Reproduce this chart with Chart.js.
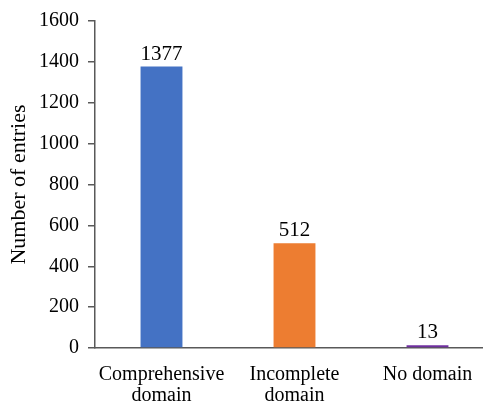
<!DOCTYPE html>
<html><head><meta charset="utf-8">
<script src="https://cdn.jsdelivr.net/npm/chart.js@4/dist/chart.umd.min.js"></script>
<style>
html,body{margin:0;padding:0;background:#fff;overflow:hidden;width:483px;height:402px}
#wrap{width:500px;height:402px;position:relative}
</style></head><body>
<div id="wrap"><canvas id="c" width="500" height="402"></canvas></div>
<script>
const categories = [["Comprehensive","domain"],["Incomplete","domain"],"No domain"];
const entries = [1377, 512, 13];
const barColors = ["#4472C4", "#ED7D31", "#7030A0"];
const yTicks = [0, 200, 400, 600, 800, 1000, 1200, 1400, 1600];
const SERIF = '"Liberation Serif", "Times New Roman", serif';

const labelPlugin = {
  id: 'valueLabels',
  afterDatasetsDraw(chart) {
    const ctx = chart.ctx;
    const meta = chart.getDatasetMeta(0);
    ctx.save();
    ctx.font = '21px ' + SERIF;
    ctx.fillStyle = '#000';
    ctx.textAlign = 'center';
    ctx.textBaseline = 'alphabetic';
    meta.data.forEach((bar, i) => {
      ctx.fillText(String(entries[i]), bar.x, bar.y - 7);
    });
    ctx.restore();
  }
};

new Chart(document.getElementById('c'), {
  type: 'bar',
  data: {
    labels: categories,
    datasets: [{
      data: entries,
      backgroundColor: barColors,
      borderWidth: 0,
      barPercentage: 0.315,
      categoryPercentage: 1.0
    }]
  },
  options: {
    responsive: false,
    animation: false,
    devicePixelRatio: 1,
    layout: { padding: { top: 11, right: 6, left: 8, bottom: -12 } },
    plugins: { legend: { display: false }, tooltip: { enabled: false } },
    scales: {
      x: {
        grid: { display: false },
        border: { display: true, color: '#595959', width: 1.5 },
        ticks: {
          color: '#000',
          font: { family: SERIF, size: 20, lineHeight: 1.05 },
          maxRotation: 0, autoSkip: false, padding: 8
        }
      },
      y: {
        min: 0, max: 1600,
        afterBuildTicks(scale) { scale.ticks = yTicks.map(v => ({ value: v })); },
        grid: { drawOnChartArea: false, drawTicks: true, tickLength: 7, color: '#595959', lineWidth: 1.5 },
        border: { display: true, color: '#595959', width: 1.5 },
        ticks: {
          color: '#000',
          font: { family: SERIF, size: 20 },
          padding: 9,
          callback: (v) => String(v)
        },
        title: {
          display: true, text: 'Number of entries', color: '#000',
          font: { family: SERIF, size: 22, lineHeight: 1.0 },
          padding: { top: 0, bottom: 0 }
        }
      }
    }
  },
  plugins: [labelPlugin]
});
</script>
</body></html>
